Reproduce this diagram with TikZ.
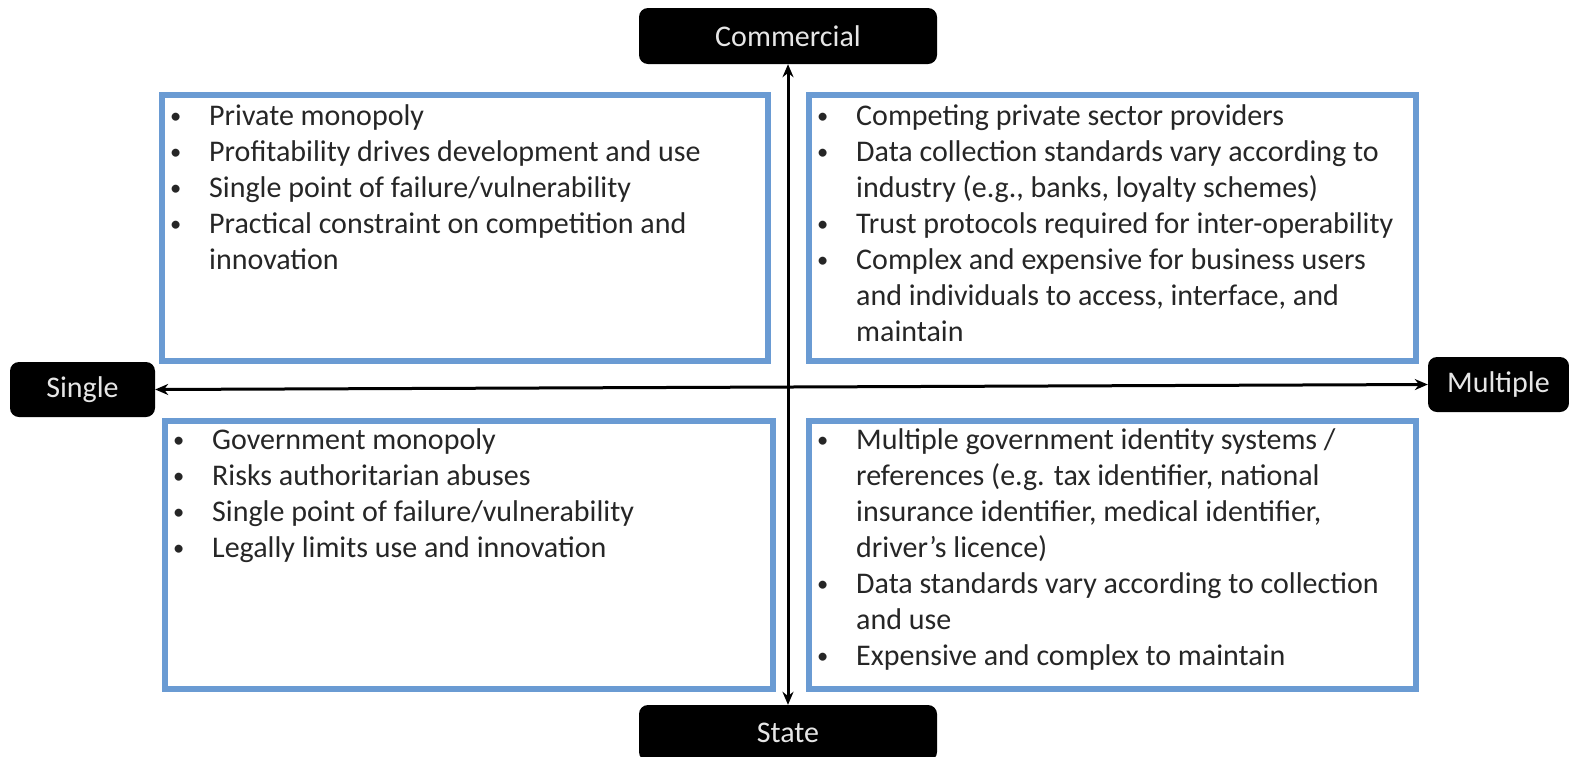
\documentclass[tikz,border=0pt]{standalone}
\usepackage{fontspec}
\usepackage{graphicx}
\setmainfont{Carlito}
\usetikzlibrary{arrows.meta}
\definecolor{boxblue}{HTML}{6A9BD3}
\definecolor{txt}{HTML}{262626}
\definecolor{lbl}{HTML}{E6E6E6}
\newcommand{\bitem}[1]{\par\noindent\hangindent=42pt\hangafter=1\makebox[42pt][l]{\hspace{3pt}\raisebox{1.5pt}{\scalebox{0.75}{\textbullet}}}#1}
\newcommand{\quadcontent}[1]{\parbox[t]{620pt}{\fontsize{30}{36}\selectfont #1\par}}
\tikzset{
  quad/.style={draw=boxblue, line width=5.5pt, fill=white, inner sep=0pt, anchor=north west},
  quadtext/.style={anchor=base west, inner sep=0pt, text=txt},
  axislabel/.style={fill=black, rounded corners=9pt, text=lbl, inner sep=0pt,
    font=\fontsize{30}{36}\selectfont},
  axis/.style={line width=3pt, {Stealth[length=13pt,width=11pt]}-{Stealth[length=13pt,width=11pt]}}
}
\begin{document}
\begin{tikzpicture}[x=1pt,y=-1pt]
\useasboundingbox (0,0) rectangle (1569,756);
\clip (0,0) rectangle (1569,756);
% axis labels
\node[axislabel, minimum width=298pt, minimum height=56pt] (comm) at (788,36) {Commercial};
\node[axislabel, minimum width=298pt, minimum height=56pt] (state) at (788,733) {State};
\node[axislabel, minimum width=145pt, minimum height=55pt] (single) at (82.5,389.5) {Single};
\node[axislabel, minimum width=141pt, minimum height=55pt] (multi) at (1498.5,384.5) {Multiple};
% quadrant boxes
\node[quad, minimum width=606pt, minimum height=266pt] (tl) at (159,92) {};
\node[quad, minimum width=607pt, minimum height=266pt] (tr) at (806,92) {};
\node[quad, minimum width=608pt, minimum height=268pt] (bl) at (162,418) {};
\node[quad, minimum width=607pt, minimum height=268pt] (br) at (806,418) {};
% axes
\draw[axis] (comm.south) -- (state.north);
\draw[axis] (single.east) -- (multi.west);
% texts
\node[quadtext] (tlt) at (167,125) {\quadcontent{%
\bitem{Private monopoly}
\bitem{Profitability drives development and use}
\bitem{Single point of failure/vulnerability}
\bitem{Practical constraint on competition and\\innovation}}};
\node[quadtext] (trt) at (814,125) {\quadcontent{%
\bitem{Competing private sector providers}
\bitem{Data collection standards vary according to\\industry (e.g., banks, loyalty schemes)}
\bitem{Trust protocols required for inter-operability}
\bitem{Complex and expensive for business users\\and individuals to access, interface, and\\maintain}}};
\node[quadtext] (blt) at (170,449) {\quadcontent{%
\bitem{Government monopoly}
\bitem{Risks authoritarian abuses}
\bitem{Single point of failure/vulnerability}
\bitem{Legally limits use and innovation}}};
\node[quadtext] (brt) at (814,449) {\quadcontent{%
\bitem{Multiple government identity systems /\\references (e.g. tax identifier, national\\insurance identifier, medical identifier,\\driver’s licence)}
\bitem{Data standards vary according to collection\\and use}
\bitem{Expensive and complex to maintain}}};
\end{tikzpicture}
\end{document}
